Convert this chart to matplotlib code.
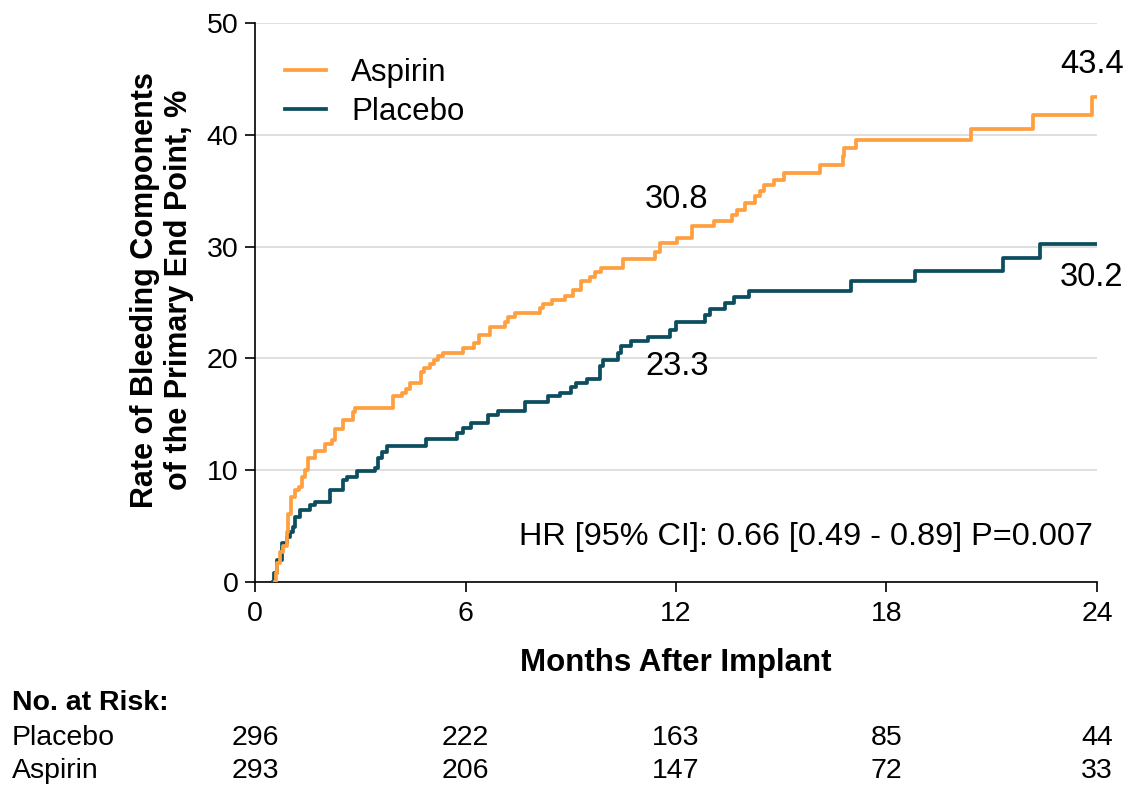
import matplotlib
matplotlib.use("Agg")
import matplotlib.pyplot as plt
from matplotlib.lines import Line2D

plt.rcParams["font.family"] = ["Liberation Sans", "DejaVu Sans"]

# Kaplan-Meier style cumulative event rates (months, %)
aspirin_months = [0.57, 0.60, 0.62, 0.71, 0.81, 0.90, 0.95, 1.03, 1.14, 1.24, 1.33, 1.43,
                  1.52, 1.71, 2.00, 2.20, 2.28, 2.52, 2.80, 2.85, 3.94, 4.20, 4.30, 4.41,
                  4.74, 4.82, 4.99, 5.10, 5.21, 5.36, 5.93, 6.24, 6.39, 6.71, 7.13, 7.21,
                  7.42, 8.12, 8.22, 8.46, 8.84, 9.05, 9.29, 9.56, 9.70, 9.86, 10.48, 11.41,
                  11.53, 12.02, 12.45, 13.07, 13.59, 13.73, 13.97, 14.25, 14.40, 14.50, 14.78,
                  15.07, 16.11, 16.76, 16.80, 17.14, 20.41, 22.19, 23.85, 24.0]
aspirin_rate = [0.0, 0.8, 1.7, 2.7, 3.2, 4.5, 6.1, 7.6, 8.2, 8.5, 9.4, 10.0,
                11.1, 11.7, 12.3, 12.7, 13.7, 14.5, 15.2, 15.6, 16.6, 16.9, 17.3, 17.8,
                18.8, 19.1, 19.5, 19.9, 20.2, 20.5, 20.9, 21.35, 22.1, 22.8, 23.3, 23.7,
                24.1, 24.5, 24.9, 25.2, 25.6, 26.1, 26.9, 27.3, 27.7, 28.1, 28.9, 29.5,
                30.3, 30.8, 31.8, 32.3, 32.8, 33.3, 33.9, 34.5, 35.0, 35.5, 36.0,
                36.6, 37.3, 38.1, 38.8, 39.5, 40.5, 41.8, 43.4, 43.4]

placebo_months = [0.52, 0.55, 0.62, 0.76, 0.90, 1.00, 1.09, 1.14, 1.28, 1.57, 1.71, 2.14,
                  2.52, 2.61, 2.90, 3.42, 3.52, 3.61, 3.75, 4.87, 5.75, 5.94, 6.15, 6.65,
                  6.94, 7.70, 8.36, 8.69, 9.02, 9.16, 9.45, 9.83, 9.92, 10.35, 10.44, 10.73,
                  11.20, 11.83, 12.00, 12.83, 12.97, 13.40, 13.66, 14.07, 16.98, 18.81,
                  21.33, 22.38, 24.0]
placebo_rate = [0.0, 0.8, 2.0, 3.5, 4.05, 4.5, 4.95, 5.85, 6.4, 6.9, 7.2, 8.2,
                9.1, 9.4, 9.9, 10.2, 11.1, 11.65, 12.2, 12.8, 13.3, 13.75, 14.25, 14.9,
                15.3, 16.1, 16.6, 16.9, 17.4, 17.8, 18.2, 19.3, 19.9, 20.45, 21.1, 21.6,
                21.9, 22.5, 23.3, 23.9, 24.4, 25.0, 25.5, 26.05, 26.9, 27.8,
                28.95, 30.2, 30.2]

# numbers at risk
risk_months = [0, 6, 12, 18, 24]
risk_placebo = [296, 222, 163, 85, 44]
risk_aspirin = [293, 206, 147, 72, 33]

# rate labels: (month, y position, text)
rate_labels = [(12.02, 34.2, "30.8"), (12.02, 19.3, "23.3"),
               (23.85, 46.3, "43.4"), (23.85, 27.2, "30.2")]

c_aspirin = "#FFA040"
c_placebo = "#0C4E5E"

fig = plt.figure(figsize=(11.29, 7.88), dpi=100)
ax = fig.add_axes([255 / 1129, 206 / 788, 842 / 1129, 559 / 788])

ax.step(placebo_months, placebo_rate, where="post", color=c_placebo, lw=2.7, zorder=3)
ax.step(aspirin_months, aspirin_rate, where="post", color=c_aspirin, lw=2.7, zorder=4)

ax.set_xlim(0, 24)
ax.set_ylim(0, 50)
ax.set_xticks(risk_months)
ax.set_yticks([0, 10, 20, 30, 40, 50])
ax.tick_params(labelsize=20.5, width=1.2, length=7, pad=5, color="black")
ax.tick_params(axis="x", pad=7)
for s in ["top", "right"]:
    ax.spines[s].set_visible(False)
for s in ["left", "bottom"]:
    ax.spines[s].set_linewidth(1.2)
ax.yaxis.grid(True, color="#d9d9d9", lw=1.2)
ax.set_axisbelow(True)

ax.set_xlabel("Months After Implant", fontsize=22.5, fontweight="bold", labelpad=15)
fig.text(162 / 1129, 1 - 290 / 788, "Rate of Bleeding Components\nof the Primary End Point, %",
         rotation=90, ha="center", va="center", fontsize=22, fontweight="bold",
         multialignment="center", linespacing=1.15)

handles = [Line2D([], [], color=c_aspirin, lw=2.7), Line2D([], [], color=c_placebo, lw=2.7)]
ax.legend(handles, ["Aspirin", "Placebo"], loc="upper left", bbox_to_anchor=(0.036, 0.937),
          frameon=False, fontsize=22.5, handlelength=1.3, handletextpad=0.8,
          borderpad=0, borderaxespad=0, labelspacing=0.28)

for mx, my, txt in rate_labels:
    ax.text(mx, my, txt, ha="center", va="center", fontsize=23.5)

ax.text(23.89, 4.0, "HR [95% CI]: 0.66 [0.49 - 0.89] P=0.007", ha="right", va="center",
        fontsize=23.3)

# risk table under the axis
fig.text(12 / 1129, 1 - 703 / 788, "No. at Risk:", fontsize=20.5, fontweight="bold",
         ha="left", va="center")
for row_y, name, counts in [(738, "Placebo", risk_placebo), (771, "Aspirin", risk_aspirin)]:
    fig.text(12 / 1129, 1 - row_y / 788, name, fontsize=20.5, ha="left", va="center")
    for m, n in zip(risk_months, counts):
        fx = (255 + m * 842 / 24) / 1129
        fig.text(fx, 1 - row_y / 788, str(n), fontsize=20.5, ha="center", va="center")

fig.savefig("out.png", dpi=100)
